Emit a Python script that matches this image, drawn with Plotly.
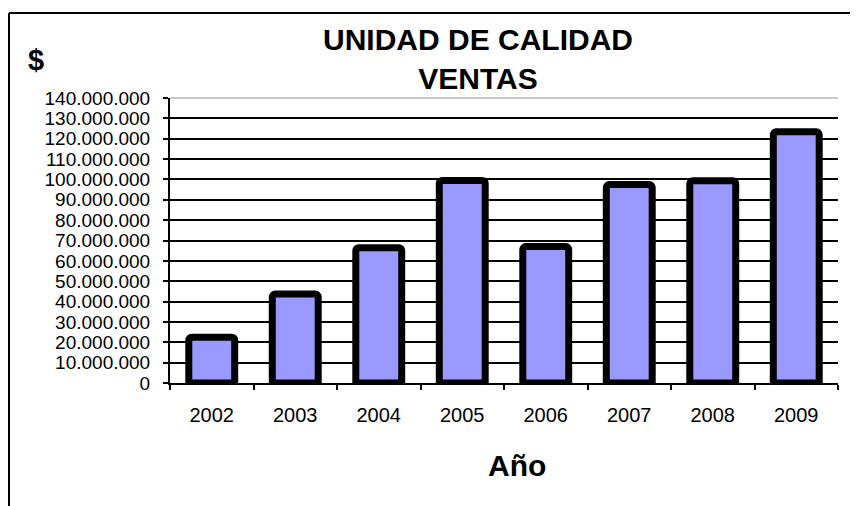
import plotly.graph_objects as go

# datos
anios = ["2002", "2003", "2004", "2005", "2006", "2007", "2008", "2009"]
ventas = [22500000, 43700000, 66500000, 99500000, 67000000, 97500000, 99400000, 123400000]
y_ticks = list(range(0, 140000001, 10000000))

FONT = "Liberation Sans, Arial, sans-serif"

# area del grafico en pixeles de la captura (la pagina tiene 8px de margen)
OFF = 8
L, R, T, B = 170, 838, 98, 383
W, H = 858, 506


def px(x):
    return (x - L) / (R - L)


def py(y):
    return (B - y) / (B - T)


trace = go.Bar(
    x=anios,
    y=ventas,
    marker=dict(color="#9999ff", line=dict(color="black", width=7), cornerradius=3),
    hoverinfo="x+y",
)

layout = go.Layout(
    width=W,
    height=H,
    margin=dict(l=L - OFF, r=W - R + OFF, t=T - OFF, b=H - B + OFF, pad=0),
    paper_bgcolor="white",
    plot_bgcolor="white",
    showlegend=False,
    separators=",.",
    bargap=0.45,
    font=dict(family=FONT, color="black"),
    xaxis=dict(
        type="category",
        showline=True,
        linecolor="black",
        linewidth=2,
        ticks="outside",
        ticklen=5,
        tickwidth=1.5,
        tickcolor="black",
        tickson="boundaries",
        showgrid=False,
        tickfont=dict(size=20, family=FONT),
        ticklabelstandoff=13,
    ),
    yaxis=dict(
        range=[0, 140000000],
        tickvals=y_ticks,
        tickformat=",d",
        showline=True,
        linecolor="black",
        linewidth=2,
        ticks="outside",
        ticklen=5,
        tickwidth=1.5,
        tickcolor="black",
        showgrid=True,
        gridcolor="black",
        gridwidth=1.5,
        zeroline=False,
        tickfont=dict(size=19, family=FONT),
        ticklabelstandoff=9,
    ),
    annotations=[
        dict(text="<b>UNIDAD DE CALIDAD<br>VENTAS</b>", x=px(478), y=py(59),
             xref="paper", yref="paper", showarrow=False, xanchor="center", yanchor="middle",
             font=dict(size=30, family=FONT)),
        dict(text="<b>$</b>", x=px(36), y=py(60), xref="paper", yref="paper",
             showarrow=False, xanchor="center", yanchor="middle",
             font=dict(size=29, family=FONT)),
        dict(text="<b>Año</b>", x=px(517), y=py(465), xref="paper", yref="paper",
             showarrow=False, xanchor="center", yanchor="middle",
             font=dict(size=30, family=FONT)),
    ],
    shapes=[
        # linea superior del area en gris
        dict(type="line", xref="paper", yref="paper", x0=0, x1=1, y0=1, y1=1,
             line=dict(color="#c8c8c8", width=2)),
        # marco exterior del grafico
        dict(type="line", xref="paper", yref="paper", x0=px(9), x1=px(860), y0=py(13), y1=py(13),
             line=dict(color="black", width=2)),
        dict(type="line", xref="paper", yref="paper", x0=px(9), x1=px(9), y0=py(13), y1=py(510),
             line=dict(color="black", width=2)),
    ],
)

fig = go.Figure(data=[trace], layout=layout)
fig.write_html("out.html")
